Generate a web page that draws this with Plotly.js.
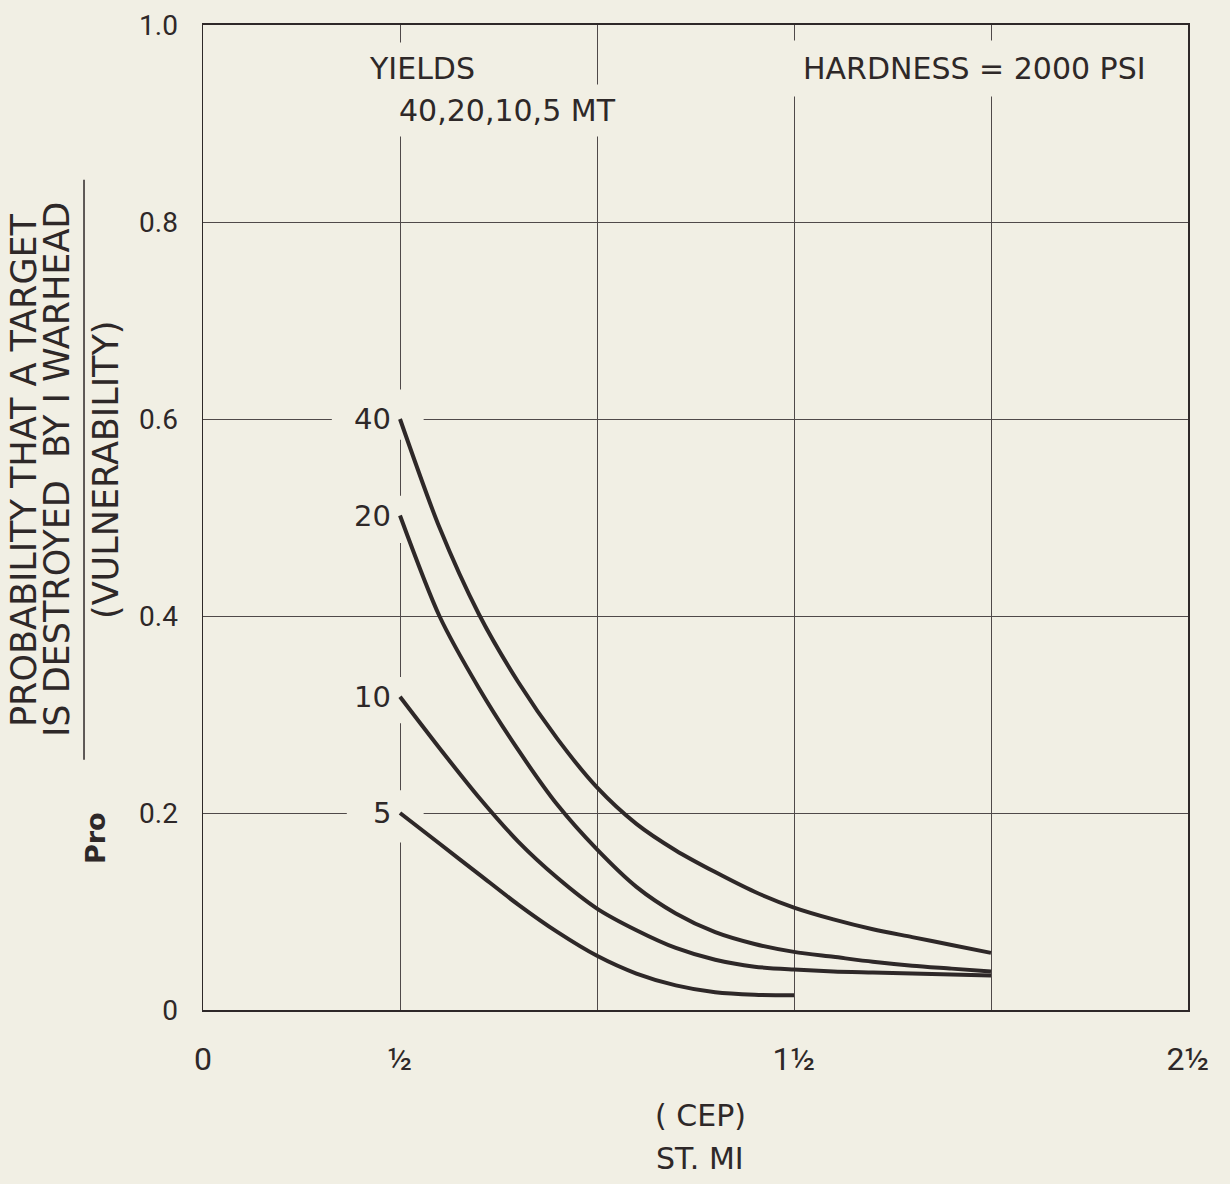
<!DOCTYPE html>
<html>
<head>
<meta charset="utf-8">
<script src="https://cdn.plot.ly/plotly-3.0.1.min.js"></script>
<style>
  html, body { margin: 0; padding: 0; background: #f1efe4; }
  #chart { width: 1230px; height: 1184px; }
</style>
</head>
<body>
<div id="chart"></div>
<script>
// CEP (statute miles)
const cep  = [0.5, 0.6, 0.7, 0.8, 0.9, 1.0, 1.1, 1.2, 1.3, 1.4, 1.5, 1.6, 1.7, 1.8, 1.9, 2.0];
const cep5 = [0.5, 0.6, 0.7, 0.8, 0.9, 1.0, 1.1, 1.2, 1.3, 1.4, 1.5];

// Vulnerability per yield (MT)
const y40 = [0.600, 0.490, 0.402, 0.333, 0.275, 0.226, 0.189, 0.162, 0.140, 0.120, 0.104, 0.092, 0.082, 0.074, 0.066, 0.058];
const y20 = [0.502, 0.400, 0.327, 0.264, 0.208, 0.163, 0.125, 0.098, 0.079, 0.067, 0.059, 0.054, 0.049, 0.045, 0.042, 0.039];
const y10 = [0.318, 0.266, 0.216, 0.171, 0.134, 0.103, 0.081, 0.063, 0.051, 0.044, 0.041, 0.039, 0.038, 0.037, 0.036, 0.035];
const y5  = [0.200, 0.169, 0.138, 0.107, 0.079, 0.055, 0.037, 0.025, 0.018, 0.0155, 0.015];

const yieldLabels = ["40", "20", "10", "5"];

const xTickVals = [0, 0.5, 1.0, 1.5, 2.0, 2.5];
const xTickText = ["0", "½", "", "1½", "", "2½"];
const yTickVals = [0, 0.2, 0.4, 0.6, 0.8, 1.0];
const yTickText = ["0", "0.2", "0.4", "0.6", "0.8", "1.0"];

const BG = "#f1efe4";
const INK = "#2e2828";
const GRID = "#4f4949";
const FONT = "'DejaVu Sans', sans-serif";
const TICKFONT = "Roboto, 'DejaVu Sans', sans-serif";

const series = [[cep, y40], [cep, y20], [cep, y10], [cep5, y5]];

const traces = series.map((s, i) => ({
  type: "scatter",
  mode: "lines",
  x: s[0],
  y: s[1],
  name: yieldLabels[i] + " MT",
  line: { color: INK, width: 4, shape: "spline", smoothing: 0.8 },
  hoverinfo: "x+y+name"
}));

// gridline masks behind the curve labels (drawn between grid and traces)
const maskBoxes = [
  [0.327, 0.56, 0.579, 0.630],
  [0.34, 0.52, 0.474, 0.522],
  [0.35, 0.52, 0.291, 0.338],
  [0.365, 0.56, 0.170, 0.223]
];
const shapes = maskBoxes.map(b => ({
  type: "rect", xref: "x", yref: "y", layer: "between",
  x0: b[0], x1: b[1], y0: b[2], y1: b[3],
  fillcolor: BG, line: { width: 0 }
}));
shapes.push({
  type: "line", xref: "paper", yref: "paper", layer: "above",
  x0: -0.1208, x1: -0.1208, y0: 0.254, y1: 0.843,
  line: { color: INK, width: 1.5 }
});

const startY = [y40[0], y20[0], y10[0], y5[0]];
const annotations = yieldLabels.map((t, i) => ({
  x: 0.5, y: startY[i], xref: "x", yref: "y",
  text: t, showarrow: false, xanchor: "right", yanchor: "middle",
  xshift: -7, font: { family: FONT, size: 29, color: INK }
}));

annotations.push(
  { xref: "paper", yref: "paper", x: (422 - 203) / 985, y: (1010 - 69) / 985, text: "YIELDS",
    showarrow: false, xanchor: "center", yanchor: "middle", bgcolor: BG, borderpad: 8,
    font: { family: FONT, size: 30, color: INK } },
  { xref: "x", yref: "paper", x: 0.5, y: (1010 - 110) / 985, text: "40,20,10,5 MT",
    showarrow: false, xanchor: "left", yanchor: "middle", bgcolor: BG, borderpad: 8, xshift: -10,
    font: { family: FONT, size: 30, color: INK } },
  { xref: "paper", yref: "paper", x: (974 - 203) / 985, y: (1010 - 69) / 985, text: "HARDNESS = 2000 PSI",
    showarrow: false, xanchor: "center", yanchor: "middle", bgcolor: BG, borderpad: 10,
    font: { family: FONT, size: 30, color: INK } },
  { xref: "paper", yref: "paper", x: (24 - 203) / 985, y: (1010 - 470) / 985, text: "PROBABILITY THAT A TARGET",
    textangle: -90, showarrow: false, xanchor: "center", yanchor: "middle",
    font: { family: FONT, size: 35, color: INK } },
  { xref: "paper", yref: "paper", x: (57 - 203) / 985, y: (1010 - 470) / 985, text: "IS DESTROYED  BY I WARHEAD",
    textangle: -90, showarrow: false, xanchor: "center", yanchor: "middle",
    font: { family: FONT, size: 35, color: INK } },
  { xref: "paper", yref: "paper", x: (106 - 203) / 985, y: (1010 - 470) / 985, text: "(VULNERABILITY)",
    textangle: -90, showarrow: false, xanchor: "center", yanchor: "middle",
    font: { family: FONT, size: 35, color: INK } },
  { xref: "paper", yref: "paper", x: (95 - 203) / 985, y: (1010 - 838) / 985, text: "<b>Pro</b>",
    textangle: -90, showarrow: false, xanchor: "center", yanchor: "middle",
    font: { family: FONT, size: 27, color: INK } },
  { xref: "paper", yref: "paper", x: (700 - 203) / 985, y: (1010 - 1115) / 985, text: "( CEP)",
    showarrow: false, xanchor: "center", yanchor: "middle",
    font: { family: FONT, size: 30, color: INK } },
  { xref: "paper", yref: "paper", x: (700 - 203) / 985, y: (1010 - 1158) / 985, text: "ST. MI",
    showarrow: false, xanchor: "center", yanchor: "middle",
    font: { family: FONT, size: 30, color: INK } }
);

const layout = {
  width: 1230, height: 1184,
  paper_bgcolor: BG, plot_bgcolor: BG,
  margin: { l: 203, r: 42, t: 25, b: 174 },
  showlegend: false,
  font: { family: FONT, color: INK },
  xaxis: {
    range: [0, 2.5], tickmode: "array", tickvals: xTickVals, ticktext: xTickText,
    showgrid: true, gridcolor: GRID, gridwidth: 1,
    zeroline: false, showline: true, linecolor: INK, linewidth: 2, mirror: true,
    ticks: "", ticklabelstandoff: 20,
    tickfont: { family: TICKFONT, size: 32, color: INK }, fixedrange: true
  },
  yaxis: {
    range: [0, 1.0], tickmode: "array", tickvals: yTickVals, ticktext: yTickText,
    showgrid: true, gridcolor: GRID, gridwidth: 1,
    zeroline: false, showline: true, linecolor: INK, linewidth: 1.5, mirror: true,
    ticks: "", ticklabelstandoff: 18,
    tickfont: { family: TICKFONT, size: 28, color: INK }, fixedrange: true
  },
  shapes: shapes,
  annotations: annotations
};

Plotly.newPlot("chart", traces, layout, { displayModeBar: false, staticPlot: true });
</script>
</body>
</html>
